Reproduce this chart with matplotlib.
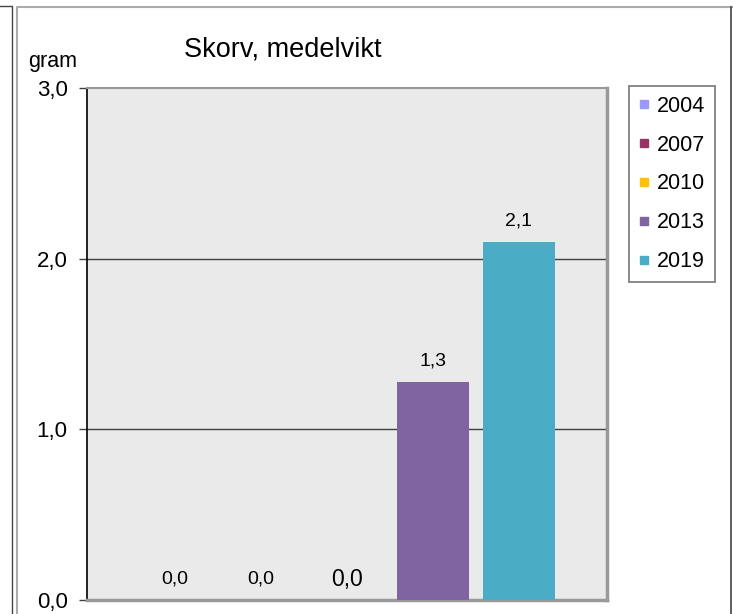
import matplotlib.pyplot as plt
from matplotlib.lines import Line2D
import numpy as np

plt.rcParams['font.family'] = ['Liberation Sans', 'DejaVu Sans']

years = ['2004', '2007', '2010', '2013', '2019']
values = [0.0, 0.0, 0.0, 1.28, 2.1]
colors = ['#9999FF', '#993366', '#FFC000', '#8064A2', '#4BACC6']
yticks = [0, 1, 2, 3]
ytick_labels = ['0,0', '1,0', '2,0', '3,0']

W, H = 733, 614
fig = plt.figure(figsize=(W / 100, H / 100), dpi=100)
ax = fig.add_axes([87 / W, 1 - 600 / H, 520 / W, 512 / H])
ax.set_facecolor('#EAEAEA')

x = np.arange(len(years))
bars = ax.bar(x, values, width=72 / 86, color=colors, zorder=3)
ax.set_xlim(-88 / 86, len(years) - 1 + 88 / 86)
ax.set_ylim(0, 3)

ax.set_yticks(yticks)
ax.set_yticklabels(ytick_labels, fontsize=16)
ax.tick_params(axis='y', length=6, width=1, pad=8, color='#404040')
ax.set_xticks([])
for yv in [1, 2]:
    ax.axhline(yv, color='#404040', lw=1, zorder=1)

ax.spines['left'].set_color('black')
ax.spines['left'].set_linewidth(1.2)
for s in ['top', 'right', 'bottom']:
    ax.spines[s].set_color('#999999')
ax.spines['top'].set_linewidth(1.5)
ax.spines['right'].set_linewidth(2.5)
ax.spines['bottom'].set_linewidth(2.5)

for i, (xi, v) in enumerate(zip(x, values)):
    fs = 16.5 if i == 2 else 14
    ax.annotate(f'{v:.1f}'.replace('.', ','), (xi, v), xytext=(0, 15),
                textcoords='offset points', ha='center', va='center', fontsize=fs)

fig.text(283 / W, 1 - 50 / H, 'Skorv, medelvikt', fontsize=19.5, ha='center', va='center')
fig.text(53 / W, 1 - 62 / H, 'gram', fontsize=15.5, ha='center', va='center')

handles = [Line2D([], [], ls='none', marker='s', markersize=5.5, color=c) for c in colors]
leg = ax.legend(handles, years, loc='upper left', bbox_to_anchor=(629 / W, 1 - 86 / H),
                bbox_transform=fig.transFigure, fontsize=15.5, frameon=True, fancybox=False,
                handlelength=0.45, handletextpad=0.4,
                labelspacing=0.83, borderpad=0.45, borderaxespad=0)
leg.get_frame().set_edgecolor('#555555')
leg.get_frame().set_linewidth(1.2)

# outer frame lines
def fl(xs, ys, c, lw):
    fig.add_artist(Line2D([a / W for a in xs], [1 - b / H for b in ys], color=c, lw=lw))

fl([0, 12, 12], [6, 6, H], '#444444', 1.0)
fl([16.5, 16.5, W], [H, 6.5, 6.5], '#AAAAAA', 1.5)
fl([731, 731], [7, H], '#444444', 1.2)

fig.savefig('out.png', dpi=100)
